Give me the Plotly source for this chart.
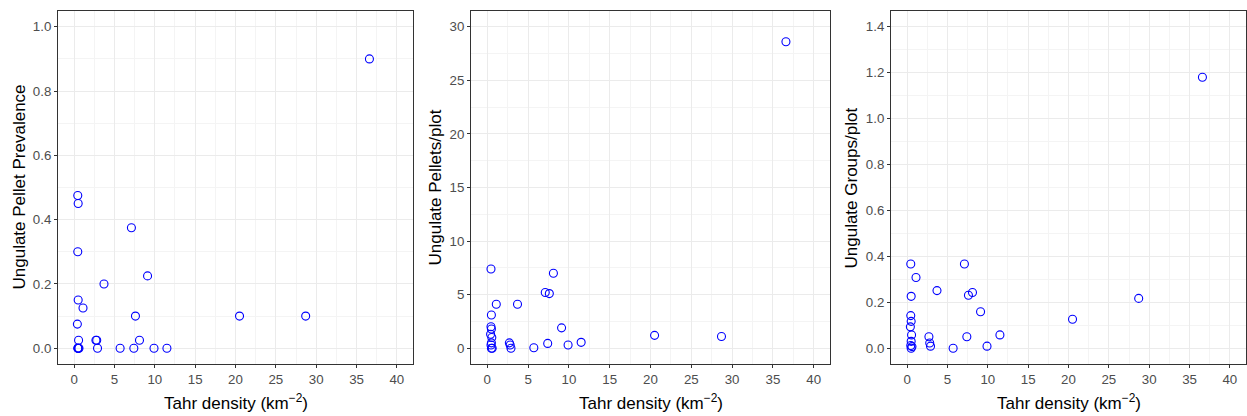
import plotly.graph_objects as go

# Tahr density per site (km^-2)
tahr_density = [36.6, 28.7, 20.5, 11.5, 9.9, 9.1, 8.1, 7.6, 7.1, 7.4, 5.7, 3.7,
                2.7, 2.8, 2.9, 1.1,
                0.45, 0.5, 0.45, 0.5, 0.4, 0.55, 0.5, 0.45, 0.6, 0.5]
pellet_prevalence = [0.9, 0.1, 0.1, 0.0, 0.0, 0.225, 0.025, 0.1, 0.375, 0.0, 0.0, 0.2,
                     0.025, 0.025, 0.0, 0.125,
                     0.475, 0.45, 0.3, 0.15, 0.075, 0.025, 0.0, 0.0, 0.0, 0.0]
pellets_per_plot = [28.6, 1.1, 1.2, 0.55, 0.3, 1.9, 7.0, 5.1, 5.2, 0.45, 0.05, 4.1,
                    0.5, 0.3, 0.0, 4.1,
                    7.4, 3.1, 2.0, 1.8, 1.3, 1.0, 0.5, 0.3, 0.0, 0.0]
groups_per_plot = [1.18, 0.217, 0.126, 0.058, 0.009, 0.159, 0.243, 0.231, 0.367, 0.05, 0.0, 0.251,
                   0.05, 0.023, 0.009, 0.308,
                   0.367, 0.226, 0.142, 0.117, 0.093, 0.058, 0.030, 0.012, 0.007, 0.0]

y_titles = ["Ungulate Pellet Prevalence", "Ungulate Pellets/plot", "Ungulate Groups/plot"]
x_title = "Tahr density (km<sup>\u22122</sup>)"

W, H = 1247, 416
FONT = "Liberation Sans, Arial, sans-serif"

panels = [
    dict(y=pellet_prevalence, xd=(58, 413), yr=[-0.05, 1.05], ydt=0.2, yfmt=".1f", ytx=19),
    dict(y=pellets_per_plot, xd=(471, 830), yr=[-1.5, 31.5], ydt=5, yfmt="d", ytx=435),
    dict(y=groups_per_plot, xd=(891, 1246), yr=[-0.07, 1.47], ydt=0.2, yfmt=".1f", ytx=851),
]
top_px, bot_px = 10.7, 364.3
ydom = [1 - bot_px / H, 1 - top_px / H]

fig = go.Figure()
annotations = []
for i, p in enumerate(panels):
    k = "" if i == 0 else str(i + 1)
    fig.add_trace(go.Scatter(
        x=tahr_density, y=p["y"], mode="markers",
        xaxis="x" + k, yaxis="y" + k,
        marker=dict(symbol="circle-open", size=8, color="#0000FF",
                    line=dict(width=1.1, color="#0000FF")),
        showlegend=False, hoverinfo="x+y",
    ))
    common = dict(
        showline=True, linecolor="#333333", linewidth=1, mirror=True,
        showgrid=True, gridcolor="#EBEBEB", gridwidth=1,
        zeroline=False, ticks="outside", ticklen=3, tickcolor="#333333", tickwidth=1,
        tickfont=dict(family=FONT, size=13.3, color="#4D4D4D"),
        automargin=False,
    )
    xd = [p["xd"][0] / W, p["xd"][1] / W]
    fig.update_layout(**{
        "xaxis" + k: dict(domain=xd, range=[-2, 42], tick0=0, dtick=5,
                          anchor="y" + k,
                          minor=dict(dtick=2.5, tick0=0, showgrid=True,
                                     gridcolor="#F4F4F4", gridwidth=1, ticks=""),
                          **common),
        "yaxis" + k: dict(domain=ydom, range=p["yr"], tick0=0, dtick=p["ydt"],
                          tickformat=p["yfmt"], anchor="x" + k,
                          minor=dict(dtick=p["ydt"] / 2, tick0=0, showgrid=True,
                                     gridcolor="#F4F4F4", gridwidth=1, ticks=""),
                          **common),
    })
    annotations.append(dict(
        text=y_titles[i], textangle=-90, xref="paper", yref="paper",
        x=p["ytx"] / W, y=1 - ((top_px + bot_px) / 2) / H,
        xanchor="center", yanchor="middle", showarrow=False,
        font=dict(family=FONT, size=17, color="black"),
    ))
    annotations.append(dict(
        text=x_title, xref="paper", yref="paper",
        x=((p["xd"][0] + p["xd"][1]) / 2) / W, y=1 - 402 / H,
        xanchor="center", yanchor="middle", showarrow=False,
        font=dict(family=FONT, size=17, color="black"),
    ))

fig.update_layout(
    width=W, height=H,
    margin=dict(l=0, r=0, t=0, b=0),
    paper_bgcolor="white", plot_bgcolor="white",
    annotations=annotations,
    font=dict(family=FONT),
)

fig.write_html(
    "out.html",
    config={"displayModeBar": False},
    post_script="document.body.style.margin='0';document.body.style.overflow='hidden';",
)
